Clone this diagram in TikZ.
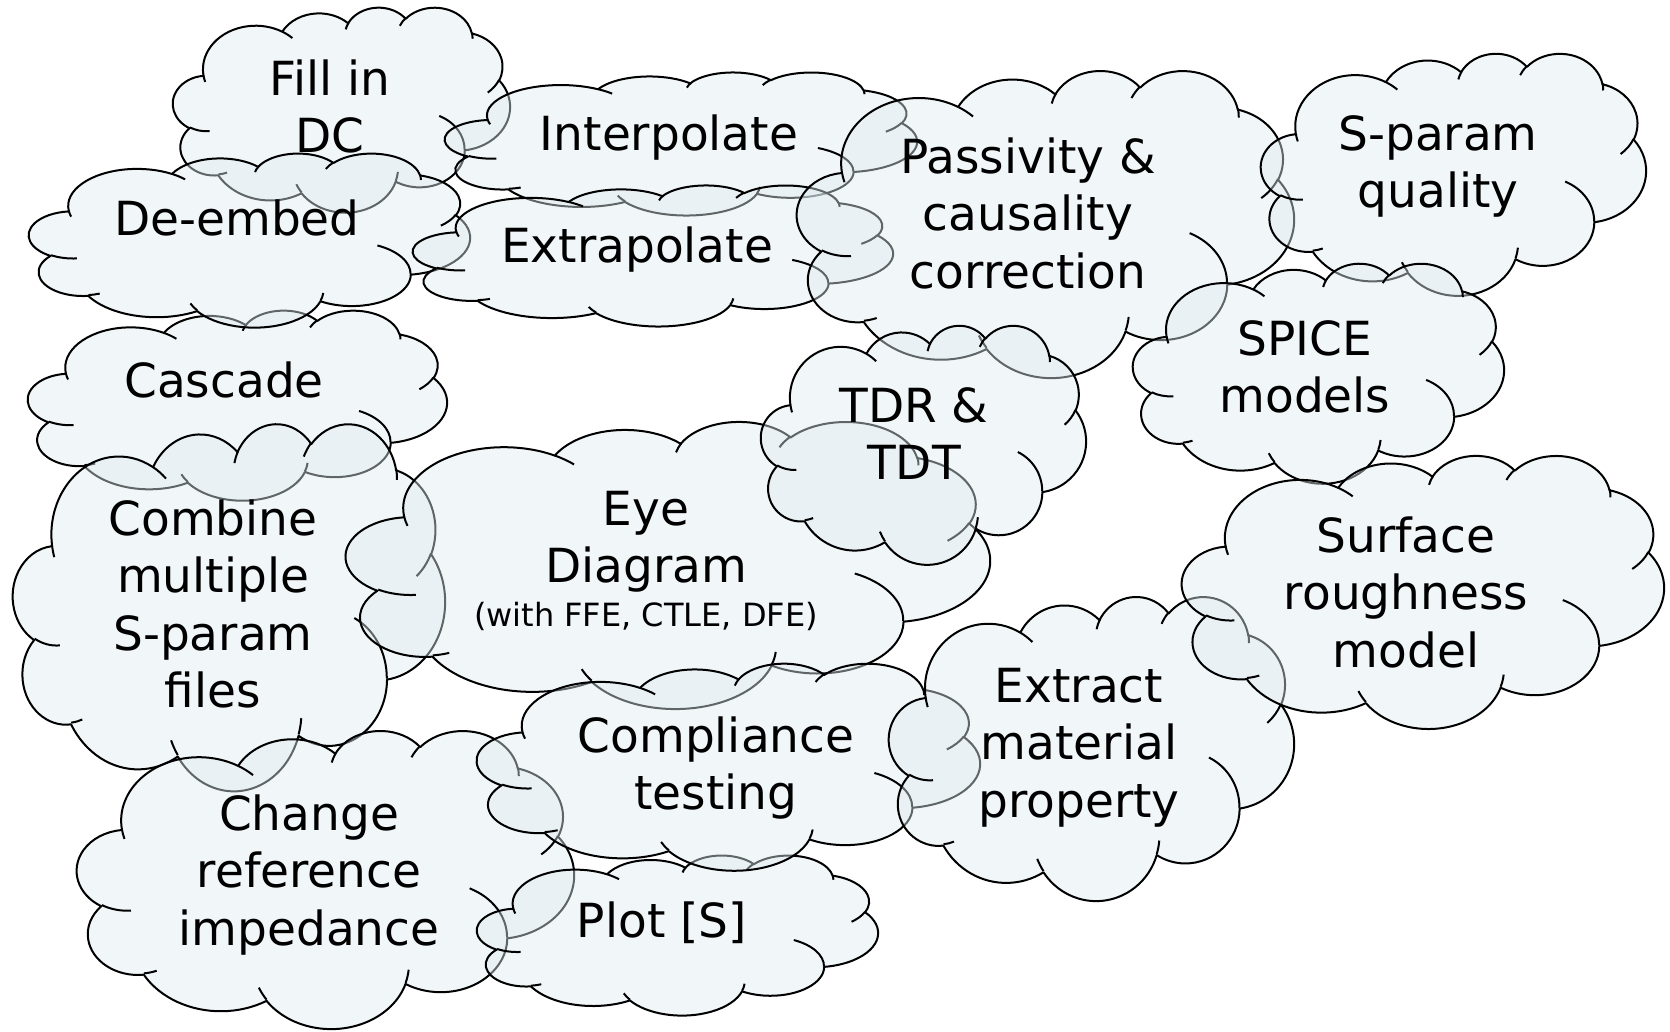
\documentclass[tikz,border=0pt]{standalone}
\usepackage{fontspec}
\setmainfont{DejaVu Sans}
\definecolor{cloudfill}{RGB}{223,236,241}
\newcommand\defarc[5]{%
  \pgfmathsetmacro\carx{#2/4320/10}%
  \pgfmathsetmacro\cary{#3/4320/10}%
  \pgfmathsetmacro\cats{atan2(\carx*sin(#4),\cary*cos(#4))}%
  \pgfmathsetmacro\cate{atan2(\carx*sin(#4+#5),\cary*cos(#4+#5))}%
  \pgfmathsetmacro\cad{\cate-\cats}%
  \pgfmathsetmacro\cad{\cad<0 ? \cad+360 : \cad}%
  \edef\catmp{\noexpand\tikzset{#1/.style={start angle=\cats, delta angle=\cad, x radius=\carx, y radius=\cary}}}%
  \catmp}
\defarc{ca1}{6753}{9190}{-190.4875}{123.7805}
\defarc{ca2}{5333}{7267}{-144.1024}{89.9452}
\defarc{ca3}{4365}{5945}{-145.8079}{99.7230}
\defarc{ca4}{4857}{6595}{-130.9861}{117.2417}
\defarc{ca5}{5333}{7273}{-78.7089}{109.0269}
\defarc{ca6}{6775}{9220}{-46.2673}{130.2690}
\defarc{ca7}{5785}{7867}{0.6250}{114.0333}
\defarc{ca8}{6752}{9215}{22.4516}{115.1726}
\defarc{ca9}{7720}{10543}{66.2426}{75.7110}
\defarc{ca10}{4360}{5918}{-274.9421}{146.7356}
\defarc{ca11}{4345}{5945}{-246.8285}{152.5189}
\defarc{ch1}{4345}{5945}{86.7420}{26.4295}
\defarc{ch2}{4360}{5918}{73.6105}{11.4475}
\defarc{ch3}{6752}{9215}{137.6242}{14.0811}
\defarc{ch4}{6752}{9215}{6.4533}{15.9984}
\defarc{ch5}{5785}{7867}{-70.2924}{70.9174}
\defarc{ch6}{5333}{7273}{30.3180}{27.7515}
\defarc{ch7}{4857}{6595}{-13.7443}{14.8589}
\defarc{ch8}{4857}{6595}{-149.1815}{18.1954}
\defarc{ch9}{4365}{5945}{-163.4943}{17.6864}
\defarc{ch10}{6753}{9190}{-66.7070}{12.3194}
\defarc{ch11}{6753}{9190}{157.6544}{11.8582}
\tikzset{
  cloudbody/.style={fill=cloudfill, fill opacity=0.43, draw=black, line width=2pt, line join=round},
  cloudhook/.style={draw=black, line width=2pt},
  cloudtext/.style={align=center, anchor=north, font=\fontsize{47}{57.5}\selectfont, text=black, inner sep=0pt}
}
\newcommand\cloudshape[4]{%
  \begin{scope}[shift={(#1pt,-#2pt)}, x=#3pt, y=-#4pt]
    \filldraw[cloudbody] (0.090278,0.332639) arc[ca1] arc[ca2] arc[ca3] arc[ca4] arc[ca5] arc[ca6] arc[ca7] arc[ca8] arc[ca9] arc[ca10] arc[ca11] -- cycle;
    \draw[cloudhook] (0.108634,0.605949) arc[ch1] (0.160370,0.807847) arc[ch2]
      (0.381435,0.904861) arc[ch3] (0.667292,0.804421) arc[ch4]
      (0.790023,0.531343) arc[ch5] (0.967546,0.355417) arc[ch6]
      (0.887130,0.125602) arc[ch7] (0.673102,0.091481) arc[ch8]
      (0.512523,0.109259) arc[ch9] (0.324074,0.120185) arc[ch10]
      (0.095532,0.365486) arc[ch11];
  \end{scope}}
% name, x centre, first baseline, text
\newcommand\cloudtext[4]{\node[cloudtext] (#1) at (#2,#3-40) {\rule{0pt}{40pt}#4};}
\begin{document}
\begin{tikzpicture}[x=1pt, y=-1pt]
  \useasboundingbox[fill=white] (0,0) rectangle (1670,1031);
  \cloudshape{173}{7}{337}{205}
  \cloudtext{filldc}{330}{95}{Fill in\\DC}
  \cloudshape{445}{72}{472}{143}
  \cloudtext{interp}{669}{150}{Interpolate}
  \cloudshape{28}{310}{419}{190}
  \cloudtext{cascade}{224}{397}{Cascade}
  \cloudshape{29}{153}{441}{174}
  \cloudtext{deembed}{237}{235}{De-embed}
  \cloudshape{413}{185}{480}{141}
  \cloudtext{extrap}{637}{262}{Extrapolate}
  \cloudshape{797}{70}{497}{307}
  \cloudtext{passiv}{1028}{173}{Passivity \&\\causality\\correction}
  \cloudshape{1261}{53}{385}{242}
  \cloudtext{squal}{1438}{150}{S-param\\quality}
  \cloudshape{1133}{263}{371}{220}
  \cloudtext{spice}{1305}{355}{SPICE\\models}
  \cloudshape{13}{423}{432}{367}
  \cloudtext{combine}{213}{535}{Combine\\multiple\\S-param\\files}
  \cloudshape{346}{421}{644}{287}
  \cloudtext{eye}{646}{525}{Eye\\Diagram\\[-14pt]{\fontsize{32}{38}\selectfont (with FFE, CTLE, DFE)}}
  \cloudshape{761}{325}{325}{239}
  \cloudtext{tdr}{914}{422}{TDR \&\\TDT}
  \cloudshape{77}{730}{497}{298}
  \cloudtext{change}{309}{830}{Change\\reference\\impedance}
  \cloudshape{477}{855}{401}{160}
  \cloudtext{plot}{662}{937}{Plot [S]}
  \cloudshape{477}{663}{503}{207}
  \cloudtext{compl}{716}{752}{Compliance\\testing}
  \cloudshape{889}{596}{405}{304}
  \cloudtext{extract}{1079}{702}{Extract\\material\\property}
  \cloudshape{1182}{455}{482}{273}
  \cloudtext{surface}{1406}{552}{Surface\\roughness\\model}
\end{tikzpicture}
\end{document}
